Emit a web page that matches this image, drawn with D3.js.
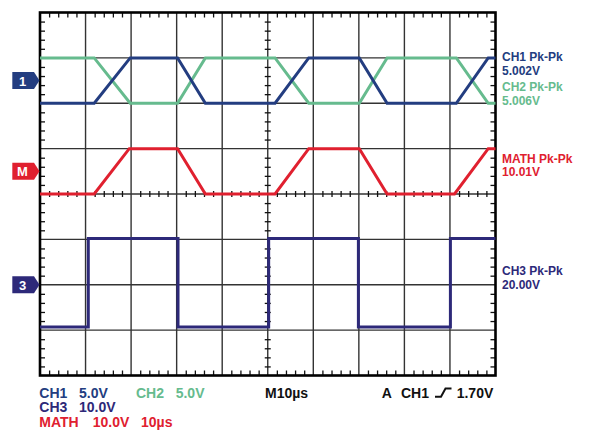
<!DOCTYPE html>
<html>
<head>
<meta charset="utf-8">
<script src="https://cdn.jsdelivr.net/npm/d3@7"></script>
<style>
  html, body { margin: 0; padding: 0; background: #fff; }
  svg { display: block; font-family: "Liberation Sans", Arial, sans-serif; font-weight: bold; }
</style>
</head>
<body>
<svg id="chart" width="590" height="432"></svg>
<script>
// ---- Data (time in µs, voltages in V relative to each channel's reference marker) ----
const timeCh12 = [0, 11.9, 19.8, 30.2, 36.3, 51.6, 59.0, 70.1, 76.2, 91.4, 98.4, 100];
const ch1Volts = [-2.5, -2.5, 2.5, 2.5, -2.5, -2.5, 2.5, 2.5, -2.5, -2.5, 2.5, 2.5];
const ch2Volts = [2.5, 2.5, -2.5, -2.5, 2.5, 2.5, -2.5, -2.5, 2.5, 2.5, -2.5, -2.5];
const timeMath = [0, 11.9, 19.6, 30.2, 36.3, 51.6, 59.0, 70.1, 76.2, 91.0, 98.4, 100];
const mathVolts = [-5, -5, 5, 5, -5, -5, 5, 5, -5, -5, 5, 5];
const timeCh3 = [0, 10.6, 10.6, 30.3, 30.3, 50.2, 50.2, 69.9, 69.9, 90.1, 90.1, 100];
const ch3Volts = [-9.3, -9.3, 10.2, 10.2, -9.3, -9.3, 10.2, 10.2, -9.3, -9.3, 10.2, 10.2];

const channelNames = ["CH1", "CH2", "MATH", "CH3"];
const voltsPerDiv = [5, 5, 10, 10];
const markerDiv = [2.5, 2.5, 0.5, -2];        // reference level, divisions above centre
const markerLabels = ["1", null, "M", "3"];
const pkPkLabels = ["CH1 Pk-Pk", "CH2 Pk-Pk", "MATH Pk-Pk", "CH3 Pk-Pk"];
const pkPkValues = ["5.002V", "5.006V", "10.01V", "20.00V"];
const colors = ["#233d80", "#66bb8e", "#e0202f", "#2d2979"];

// ---- Layout ----
const svg = d3.select("#chart");
const L = 40, R = 495.5, T = 12.5, B = 375.5;
const x = d3.scaleLinear().domain([0, 100]).range([L, R]);
const y = d3.scaleLinear().domain([4, -4]).range([T, B]);

const majorX = d3.range(10, 100, 10);
const majorY = d3.range(-3, 4, 1);
const minorX = d3.range(0, 100.01, 2).filter(v => v % 10 !== 0);
const minorY = d3.range(-4, 4.001, 0.2).map(v => +v.toFixed(2)).filter(v => Math.abs(v - Math.round(v)) > 1e-6);

// grid
const g = svg.append("g");
g.selectAll("line.vx").data(majorX).join("line")
  .attr("x1", d => x(d)).attr("x2", d => x(d)).attr("y1", T).attr("y2", B)
  .attr("stroke", "#333").attr("stroke-width", 1.4);
g.selectAll("line.hy").data(majorY).join("line")
  .attr("y1", d => y(d)).attr("y2", d => y(d)).attr("x1", L).attr("x2", R)
  .attr("stroke", "#333").attr("stroke-width", 1.4);

// minor ticks via axes
function styleAxis(sel) {
  sel.select(".domain").remove();
  sel.selectAll(".tick line").attr("stroke", "#111").attr("stroke-width", 1.3);
  sel.selectAll("text").remove();
}
svg.append("g").attr("transform", `translate(${L},0)`)
  .call(d3.axisRight(y).tickValues(minorY).tickSize(5).tickFormat("")).call(styleAxis);
svg.append("g").attr("transform", `translate(${R},0)`)
  .call(d3.axisLeft(y).tickValues(minorY).tickSize(5).tickFormat("")).call(styleAxis);
svg.append("g").attr("transform", `translate(0,${T})`)
  .call(d3.axisBottom(x).tickValues(minorX).tickSize(5).tickFormat("")).call(styleAxis);
svg.append("g").attr("transform", `translate(0,${B})`)
  .call(d3.axisTop(x).tickValues(minorX).tickSize(5).tickFormat("")).call(styleAxis);
// centre cross ticks
svg.append("g").attr("transform", `translate(${x(50) - 3},0)`)
  .call(d3.axisRight(y).tickValues(minorY).tickSize(6).tickFormat("")).call(styleAxis);
svg.append("g").attr("transform", `translate(0,${y(0) - 3})`)
  .call(d3.axisBottom(x).tickValues(minorX).tickSize(6).tickFormat("")).call(styleAxis);

// border
svg.append("rect").attr("x", L).attr("y", T).attr("width", R - L).attr("height", B - T)
  .attr("fill", "none").attr("stroke", "#000").attr("stroke-width", 2.6);

// traces
const traces = [
  { t: timeCh12, v: ch1Volts, i: 0 },
  { t: timeCh12, v: ch2Volts, i: 1 },
  { t: timeMath, v: mathVolts, i: 2 },
  { t: timeCh3, v: ch3Volts, i: 3 }
];
const drawOrder = [1, 0, 2, 3];
drawOrder.forEach(k => {
  const tr = traces[k];
  const pts = tr.t.map((t, j) => [t, tr.v[j]]);
  const line = d3.line()
    .x(d => x(d[0]))
    .y(d => y(d[1] / voltsPerDiv[tr.i] + markerDiv[tr.i]));
  svg.append("path").attr("d", line(pts)).attr("fill", "none")
    .attr("stroke", colors[tr.i]).attr("stroke-width", 3)
    .attr("stroke-linejoin", "miter");
});

// channel markers
markerLabels.forEach((lab, i) => {
  if (!lab) return;
  const ty = y(markerDiv[i]);
  const pts = [[12.3, ty - 8.5], [34, ty - 8.5], [39.5, ty], [34, ty + 8.5], [12.3, ty + 8.5]];
  svg.append("path").attr("d", d3.line()(pts) + "Z").attr("fill", colors[i]);
  svg.append("text").attr("x", 22.5).attr("y", ty + 5).attr("text-anchor", "middle")
    .attr("fill", "#fff").attr("font-size", 13).text(lab);
});

// right-side Pk-Pk readouts
const pkBase = [[61, 74.5], [91, 104.5], [162.5, 176], [275, 288.5]];
pkPkLabels.forEach((lab, i) => {
  svg.append("text").attr("x", 502).attr("y", pkBase[i][0]).attr("font-size", 12)
    .attr("fill", colors[i]).text(lab);
  svg.append("text").attr("x", 502).attr("y", pkBase[i][1]).attr("font-size", 12)
    .attr("fill", colors[i]).text(pkPkValues[i]);
});

// bottom readouts
const bottomItems = [
  { x: 39.3, y: 397.7, s: "CH1", c: colors[0] },
  { x: 79, y: 397.7, s: "5.0V", c: colors[0] },
  { x: 136, y: 397.7, s: "CH2", c: colors[1] },
  { x: 175.7, y: 397.7, s: "5.0V", c: colors[1] },
  { x: 39.3, y: 412.3, s: "CH3", c: colors[3] },
  { x: 79, y: 412.3, s: "10.0V", c: colors[3] },
  { x: 39.3, y: 427.3, s: "MATH", c: colors[2] },
  { x: 92.7, y: 427.3, s: "10.0V", c: colors[2] },
  { x: 141, y: 427.3, s: "10µs", c: colors[2] },
  { x: 265, y: 397.7, s: "M10µs", c: "#111" },
  { x: 381.7, y: 397.7, s: "A", c: "#111" },
  { x: 401, y: 397.7, s: "CH1", c: "#111" },
  { x: 456.7, y: 397.7, s: "1.70V", c: "#111" }
];
svg.selectAll("text.bot").data(bottomItems).join("text")
  .attr("class", "bot").attr("x", d => d.x).attr("y", d => d.y)
  .attr("font-size", 14).attr("fill", d => d.c).text(d => d.s);

// trigger rising-edge glyph
svg.append("path")
  .attr("d", "M435,396.7 H441 L445.5,388.5 H451.5")
  .attr("fill", "none").attr("stroke", "#111").attr("stroke-width", 2);
</script>
</body>
</html>
